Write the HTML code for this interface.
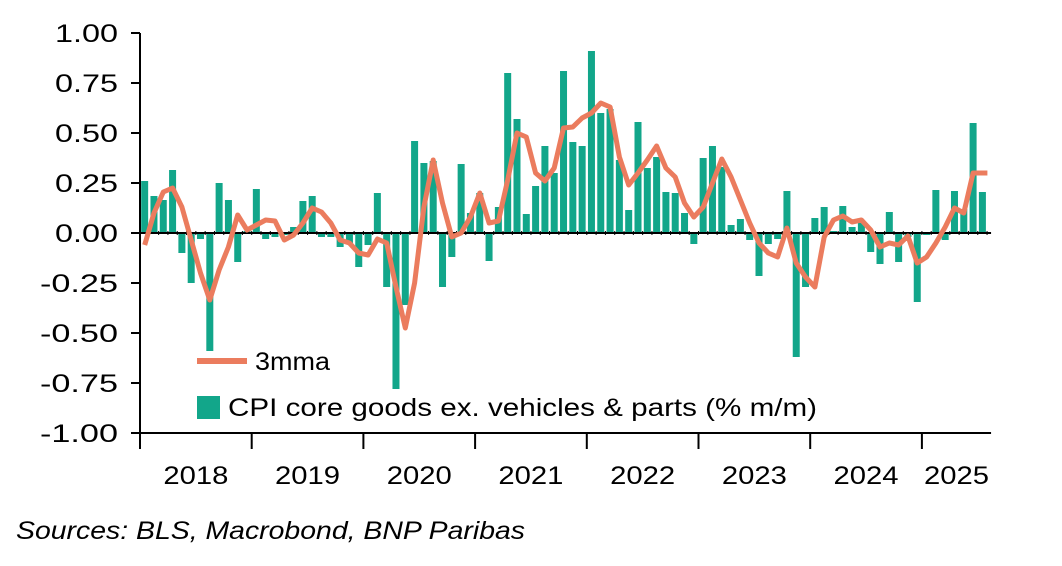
<!DOCTYPE html>
<html><head><meta charset="utf-8"><style>
html,body{margin:0;padding:0;background:#fff;}
svg{display:block;font-family:"Liberation Sans",Arial,sans-serif;}
</style></head><body>
<svg id="chart" width="1062" height="566">
<g id="grid"></g>
<g id="bars"></g>
<g id="line"></g>
<g>
  <line x1="197" y1="361" x2="247" y2="361" stroke="#eb7c5e" stroke-width="6"/>
  <text x="255" y="370" font-size="25" textLength="75" lengthAdjust="spacingAndGlyphs" fill="#000">3mma</text>
  <rect x="197" y="396" width="23" height="23" fill="#12a68a"/>
  <text x="228" y="416" font-size="25" textLength="589" lengthAdjust="spacingAndGlyphs" fill="#000">CPI core goods ex. vehicles &amp; parts (% m/m)</text>
</g>
<text x="16" y="539" font-size="25" textLength="509" lengthAdjust="spacingAndGlyphs" font-style="italic" fill="#000">Sources: BLS, Macrobond, BNP Paribas</text>
</svg>
<script>
const yTicks = [1.00,0.75,0.50,0.25,0.00,-0.25,-0.50,-0.75,-1.00];
const years = ["2018","2019","2020","2021","2022","2023","2024","2025"];
const barValues = [0.26,0.185,0.165,0.315,-0.10,-0.25,-0.03,-0.59,0.25,0.165,-0.145,0.01,
0.22,-0.03,-0.02,-0.01,0.03,0.16,0.185,-0.02,-0.02,-0.07,-0.05,-0.17,
-0.06,0.20,-0.27,-0.78,-0.36,0.46,0.35,0.36,-0.27,-0.12,0.345,0.10,
0.20,-0.14,0.13,0.80,0.57,0.095,0.235,0.435,0.30,0.81,0.455,0.435,
0.91,0.60,0.62,0.365,0.115,0.555,0.325,0.38,0.205,0.20,0.10,-0.055,
0.375,0.435,0.33,0.04,0.07,-0.035,-0.215,-0.055,-0.03,0.21,-0.62,-0.27,
0.075,0.13,0.01,0.135,0.03,0.06,-0.095,-0.155,0.105,-0.145,-0.02,-0.345,
-0.01,0.215,-0.035,0.21,0.12,0.55,0.205];
const mmaValues = [-0.06,0.10,0.205,0.225,0.13,-0.035,-0.20,-0.335,-0.185,-0.07,0.09,0.015,
0.04,0.065,0.06,-0.035,-0.01,0.05,0.125,0.105,0.05,-0.035,-0.05,-0.10,
-0.11,-0.03,-0.05,-0.27,-0.475,-0.25,0.13,0.365,0.15,-0.02,0.0,0.08,
0.20,0.05,0.06,0.265,0.50,0.48,0.30,0.26,0.325,0.525,0.53,0.575,
0.60,0.65,0.63,0.38,0.24,0.30,0.365,0.435,0.325,0.28,0.15,0.08,
0.13,0.25,0.37,0.28,0.165,0.05,-0.05,-0.10,-0.12,0.025,-0.15,-0.22,
-0.27,-0.02,0.065,0.085,0.055,0.065,0.015,-0.07,-0.05,-0.06,-0.015,-0.15,
-0.12,-0.05,0.03,0.125,0.10,0.30,0.30];

const NS="http://www.w3.org/2000/svg";
const x0=140, monthW=111.7/12, yTop=33, yBot=433, vMax=1, vMin=-1;
function xPos(i){return x0+monthW*(i+0.5);}
function yPos(v){return yTop+(vMax-v)/(vMax-vMin)*(yBot-yTop);}
function mk(tag,attrs,parent){const e=document.createElementNS(NS,tag);for(const k in attrs)e.setAttribute(k,attrs[k]);parent.appendChild(e);return e;}
const grid=document.getElementById('grid'), bars=document.getElementById('bars'), line=document.getElementById('line');
const nM=barValues.length, xEnd=x0+monthW*nM+4;

yTicks.forEach(v=>{
  const t=mk('line',{x1:x0-9,x2:x0,y1:yPos(v),y2:yPos(v),stroke:'#000','stroke-width':2},grid);
  
  
  const l=mk('text',{x:118,y:yPos(v)+9,'font-size':25,'text-anchor':'end',textLength:(v<0?78:63),lengthAdjust:'spacingAndGlyphs'},grid);
  l.textContent=v.toFixed(2);
  
  
});
const ya=mk('line',{x1:x0,x2:x0,y1:yTop,y2:yBot+1,stroke:'#000','stroke-width':2},grid);


const xa=mk('line',{x1:x0-1,x2:xEnd,y1:yBot,y2:yBot,stroke:'#000','stroke-width':2},grid);


years.forEach((y,k)=>{
  const xt=x0+k*12*monthW;
  const t=mk('line',{x1:xt,x2:xt,y1:yBot,y2:yBot+16,stroke:'#000','stroke-width':2},grid);
  
  
  const cx=Math.min(xt+6*monthW,(xt+xEnd)/2);
  const l=mk('text',{x:cx,y:484,'font-size':25,'text-anchor':'middle',textLength:65,lengthAdjust:'spacingAndGlyphs'},grid);
  l.textContent=y;
  
  
});

barValues.forEach((v,i)=>{
  const y=yPos(v), z=yPos(0);
  const r=mk('rect',{x:xPos(i)-3.5,y:Math.min(y,z),width:7,height:Math.abs(z-y),fill:'#12a68a'},bars);
  
  
});
const zl=mk('line',{x1:x0,x2:xEnd,y1:yPos(0),y2:yPos(0),stroke:'#000','stroke-width':2},bars);


for(let i=0;i<=nM;i++){
  const t=mk('line',{x1:x0+i*monthW,x2:x0+i*monthW,y1:yPos(0)-2,y2:yPos(0)+2,stroke:'#000','stroke-width':1},bars);
  
  
}
let d=mmaValues.map((v,i)=>(i?'L':'M')+xPos(i).toFixed(1)+','+yPos(v).toFixed(1)).join(' ');
d+=' L'+(xPos(nM-1)+5).toFixed(1)+','+yPos(mmaValues[nM-1]).toFixed(1);
const p=mk('path',{d:d,fill:'none',stroke:'#eb7c5e','stroke-width':5,'stroke-linejoin':'round'},line);


</script>
</body></html>
